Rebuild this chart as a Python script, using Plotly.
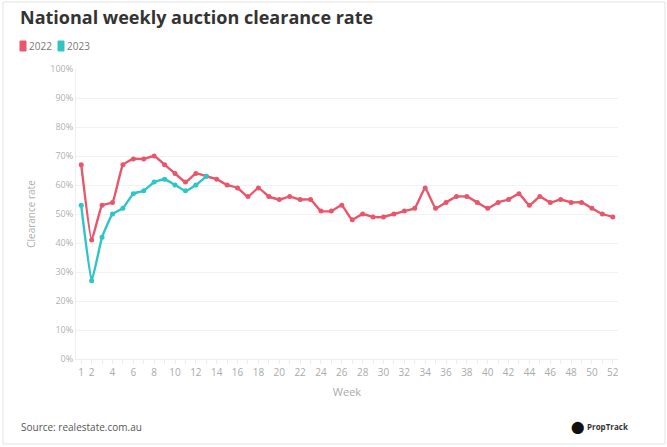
import plotly.graph_objects as go

weeks_2022 = list(range(1, 53))
rate_2022 = [67, 41, 53, 54, 67, 69, 69, 70, 67, 64, 61, 64, 63, 62, 60, 59, 56, 59, 56, 55,
             56, 55, 55, 51, 51, 53, 48, 50, 49, 49, 50, 51, 52, 59, 52, 54, 56, 56, 54, 52,
             54, 55, 57, 53, 56, 54, 55, 54, 54, 52, 50, 49]
weeks_2023 = list(range(1, 14))
rate_2023 = [53, 27, 42, 50, 52, 57, 58, 61, 62, 60, 58, 60, 63]

x_tickvals = [1] + list(range(2, 53, 2))
y_tickvals = list(range(0, 101, 10))

RED = "#E9566B"
TEAL = "#2EC5C7"
W, H = 667, 447
ML, MR, MT, MB = 76, 49, 69, 88
PW, PH = W - ML - MR, H - MT - MB

def px(x):
    return (x - ML) / PW

def py(y):
    return (H - MB - y) / PH

fig = go.Figure()
fig.add_trace(go.Scatter(x=weeks_2022, y=rate_2022, mode="lines+markers", name="2022",
                         line=dict(color=RED, width=2.4, shape="spline", smoothing=0.35),
                         marker=dict(size=5, color=RED)))
fig.add_trace(go.Scatter(x=weeks_2023, y=rate_2023, mode="lines+markers", name="2023",
                         line=dict(color=TEAL, width=2.4, shape="spline", smoothing=0.35),
                         marker=dict(size=5, color=TEAL)))

font_fam = "Open Sans, Lato, sans-serif"
fig.update_layout(
    width=W, height=H,
    margin=dict(l=ML, r=MR, t=MT, b=MB, autoexpand=False),
    paper_bgcolor="white", plot_bgcolor="white",
    showlegend=False,
    font=dict(family=font_fam, color="#aaaaaa", size=10),
    xaxis=dict(range=[0.5, 52.5], tickvals=x_tickvals, ticktext=[str(v) for v in x_tickvals],
               automargin=False,
               showgrid=False, zeroline=False, showline=True, linecolor="#eeeeee",
               ticks="outside", ticklen=4, tickcolor="#eeeeee",
               minor=dict(tickvals=weeks_2022, ticks="outside", ticklen=4, tickcolor="#eeeeee"),
               tickfont=dict(size=10, color="#aaaaaa"),
               title=dict(text="Week", font=dict(size=11, color="#aaaaaa"), standoff=10)),
    yaxis=dict(range=[0, 100], tickvals=y_tickvals, ticktext=[f"{v}%" for v in y_tickvals],
               automargin=False,
               showgrid=True, gridcolor="#f2f2f2", zeroline=False, showline=True,
               linecolor="#eeeeee", tickfont=dict(size=9, color="#b0b0b0"), ticks="",
               title=dict(text="Clearance rate", font=dict(size=10, color="#b0b0b0"), standoff=12)),
)

# outer border
fig.add_shape(type="rect", xref="paper", yref="paper", x0=px(3), x1=px(665), y0=py(2), y1=py(444),
              line=dict(color="#e3e3e3", width=1), fillcolor="rgba(0,0,0,0)", layer="below")

fig.add_annotation(text="<b>National weekly auction clearance rate</b>", xref="paper", yref="paper",
                   x=px(18), y=py(17), xanchor="left", yanchor="middle", showarrow=False,
                   font=dict(size=18, color="#333333", family=font_fam))

# legend
for sx, col, label in [(20, RED, "2022"), (58, TEAL, "2023")]:
    fig.add_shape(type="rect", xref="paper", yref="paper", x0=px(sx), x1=px(sx + 6),
                  y0=py(51), y1=py(41), fillcolor=col, line=dict(color=col, width=1))
    fig.add_annotation(text=label, xref="paper", yref="paper", x=px(sx + 7), y=py(46),
                       xanchor="left", yanchor="middle", showarrow=False,
                       font=dict(size=10, color="#777777", family=font_fam))

fig.add_annotation(text="Source: realestate.com.au", xref="paper", yref="paper",
                   x=px(19), y=py(427), xanchor="left", yanchor="middle", showarrow=False,
                   font=dict(size=10, color="#555555", family=font_fam))
fig.add_annotation(text="⬤", xref="paper", yref="paper",
                   x=px(577), y=py(426), xanchor="center", yanchor="middle", showarrow=False,
                   font=dict(size=12, color="#111111"))
fig.add_annotation(text="<b>PropTrack</b>", xref="paper", yref="paper",
                   x=px(585), y=py(426), xanchor="left", yanchor="middle", showarrow=False,
                   font=dict(size=8, color="#333333", family=font_fam))

fig.write_html("out.html", config={"displayModeBar": False},
               post_script="document.body.style.margin='0';document.body.style.overflow='hidden';")
